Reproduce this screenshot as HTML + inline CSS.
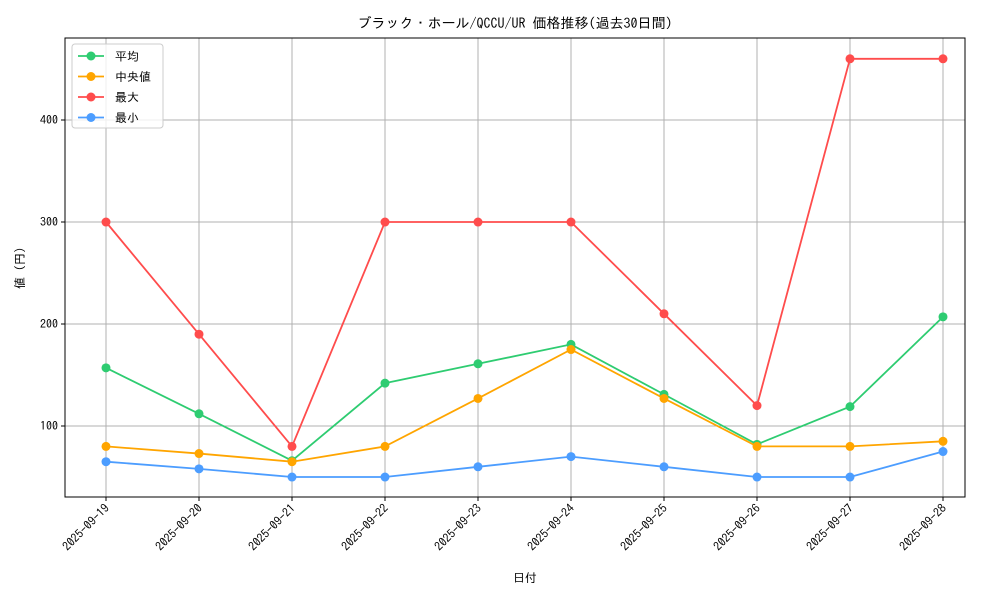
<!DOCTYPE html>
<html><head><meta charset="utf-8">
<style>
body{margin:0;background:#fff;}
svg text{font-family:"IPAGothic","Noto Sans CJK JP",monospace;}
</style></head>
<body>
<svg id="chart" width="1000" height="600" xmlns="http://www.w3.org/2000/svg"></svg>
<script>
const categories=["2025-09-19","2025-09-20","2025-09-21","2025-09-22","2025-09-23","2025-09-24","2025-09-25","2025-09-26","2025-09-27","2025-09-28"];
const avgValues=[157,112,66,142,161,180,131,82,119,207];
const medianValues=[80,73,65,80,127,175,127,80,80,85];
const maxValues=[300,190,80,300,300,300,210,120,460,460];
const minValues=[65,58,50,50,60,70,60,50,50,75];
const yTicks=[100,200,300,400];
const seriesNames=["平均","中央値","最大","最小"];
const seriesColors=["#2ecc71","#ffa500","#ff4c4c","#4c9dff"];

const L=65,R=965,T=38,B=497,yMin=30.4,yMax=480.4;
const svg=document.getElementById('chart');
const NS="http://www.w3.org/2000/svg";
function mk(tag,attrs,parent){const e=document.createElementNS(NS,tag);for(const k in attrs)e.setAttribute(k,attrs[k]);(parent||svg).appendChild(e);return e;}
const xS=i=>106+i*(943-106)/(categories.length-1);
const yS=v=>B-(v-yMin)/(yMax-yMin)*(B-T);

const grid=mk('g',{});


categories.forEach((c,i)=>{mk('line',{x1:xS(i),x2:xS(i),y1:T,y2:B,stroke:'#b0b0b0','stroke-width':1},grid);});
yTicks.forEach(v=>{mk('line',{x1:L,x2:R,y1:yS(v),y2:yS(v),stroke:'#b0b0b0','stroke-width':1},grid);});

const frame=mk('rect',{x:L,y:T,width:R-L,height:B-T,fill:'none',stroke:'#000','stroke-width':1});



const yax=mk('g',{});


yTicks.forEach(v=>{const y=yS(v);mk('line',{x1:L-4,x2:L,y1:y,y2:y,stroke:'#000'},yax);
 const t=mk('text',{x:L-7,y:y+4,'text-anchor':'end','font-size':12},yax);t.textContent=v;});
const xax=mk('g',{});


categories.forEach((c,i)=>{const x=xS(i);mk('line',{x1:x,x2:x,y1:B,y2:B+4,stroke:'#000'},xax);
 const t=mk('text',{x:x+4,y:B+12,'text-anchor':'end','font-size':12,transform:`rotate(-45 ${x+4} ${B+12})`},xax);t.textContent=c;});

[avgValues,medianValues,maxValues,minValues].forEach((vals,si)=>{
 const g=mk('g',{});
 
 
 mk('polyline',{points:vals.map((v,i)=>xS(i)+','+yS(v)).join(' '),fill:'none',stroke:seriesColors[si],'stroke-width':1.8},g);
 vals.forEach((v,i)=>{mk('circle',{cx:xS(i),cy:yS(v),r:4.5,fill:seriesColors[si]},g);});
});

let t=mk('text',{x:515,y:28,'text-anchor':'middle','font-size':14});t.textContent="ブラック・ホール/QCCU/UR 価格推移(過去30日間)";

t=mk('text',{x:525,y:582,'text-anchor':'middle','font-size':12});t.textContent="日付";

t=mk('text',{x:24,y:268,'text-anchor':'middle','font-size':12,transform:'rotate(-90 24 268)'});t.textContent="値 (円)";


const lg=mk('g',{});


mk('rect',{x:72,y:44,width:91,height:84,rx:3,fill:'#fff','fill-opacity':0.8,stroke:'#ccc'},lg);
seriesNames.forEach((n,i)=>{const y=56+i*20.5;
 const e=mk('g',{},lg);
 
 
 mk('line',{x1:78,x2:104,y1:y,y2:y,stroke:seriesColors[i],'stroke-width':1.8},e);
 mk('circle',{cx:91,cy:y,r:4.5,fill:seriesColors[i]},e);
 const tt=mk('text',{x:115,y:y+4.5,'font-size':12},e);tt.textContent=n;});
</script>
</body></html>
